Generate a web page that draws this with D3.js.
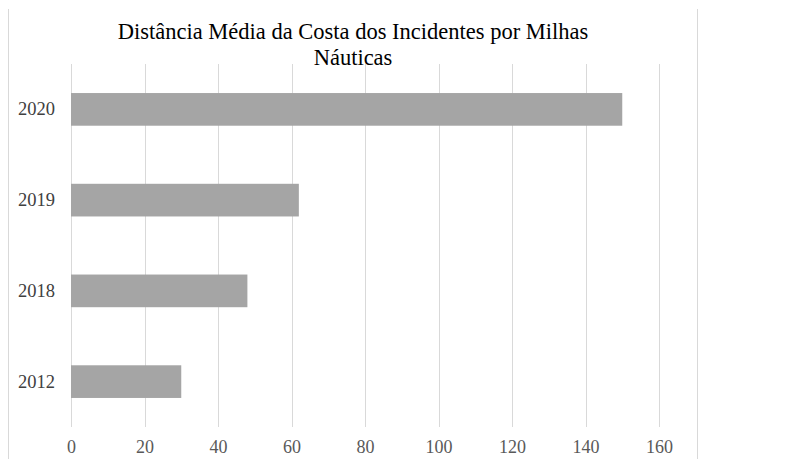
<!DOCTYPE html>
<html>
<head>
<meta charset="utf-8">
<script src="https://cdn.jsdelivr.net/npm/d3@7"></script>
<style>
  body { margin: 0; background: #fff; }
</style>
</head>
<body>
<svg width="802" height="459" font-family="Liberation Serif"></svg>
<script>
// chart data
const years = ['2020', '2019', '2018', '2012']
const distances = [150, 62, 48, 30]
const xTicks = [0, 20, 40, 60, 80, 100, 120, 140, 160]
const titleLines = ['Distância Média da Costa dos Incidentes por Milhas', 'Náuticas']

const FONT = 'Liberation Serif'
const svg = d3.select('svg')
const margin = {top: 64, right: 143, bottom: 32, left: 71}
const width = 659 - margin.left
const height = 427 - margin.top

// frame lines left and right
svg.append('line').attr('x1', 8.5).attr('x2', 8.5).attr('y1', 9).attr('y2', 459)
  .attr('stroke', '#d9d9d9').attr('stroke-width', 1)
svg.append('line').attr('x1', 697.5).attr('x2', 697.5).attr('y1', 9).attr('y2', 459)
  .attr('stroke', '#d9d9d9').attr('stroke-width', 1)

const g = svg.append('g').attr('transform', 'translate(' + margin.left + ',' + margin.top + ')')

const x = d3.scaleLinear().domain([0, 160]).range([0, width])
const y = d3.scaleBand().domain(years).range([0, height]).paddingInner(0.64).paddingOuter(0.32)

// gridlines
g.append('g')
  .selectAll('line')
  .data(xTicks)
  .enter().append('line')
  .attr('x1', d => Math.round(x(d)) + 0.5)
  .attr('x2', d => Math.round(x(d)) + 0.5)
  .attr('y1', 0)
  .attr('y2', height)
  .attr('stroke', '#d9d9d9')

// bars
g.append('g')
  .selectAll('rect')
  .data(years)
  .enter().append('rect')
  .attr('x', x(0))
  .attr('y', d => y(d))
  .attr('width', (d, i) => x(distances[i]) - x(0))
  .attr('height', y.bandwidth())
  .attr('fill', '#a5a5a5')

// x axis
const xAxis = g.append('g')
  .attr('transform', 'translate(0,' + height + ')')
  .call(d3.axisBottom(x).tickValues(xTicks).tickSize(0).tickPadding(13))
xAxis.attr('font-family', FONT).attr('font-size', 18)
xAxis.select('.domain').remove()
xAxis.selectAll('text').attr('fill', '#595959')

// y axis
const yAxis = g.append('g')
  .call(d3.axisLeft(y).tickSize(0).tickPadding(16))
yAxis.attr('font-family', FONT).attr('font-size', 18.5)
yAxis.select('.domain').remove()
yAxis.selectAll('text').attr('fill', '#404040')

// title
svg.append('g')
  .selectAll('text')
  .data(titleLines)
  .enter().append('text')
  .attr('x', 353)
  .attr('y', (d, i) => 39 + i * 26)
  .attr('text-anchor', 'middle')
  .attr('font-family', FONT)
  .attr('font-size', 22.5)
  .attr('fill', '#000')
  .text(d => d)
</script>
</body>
</html>
